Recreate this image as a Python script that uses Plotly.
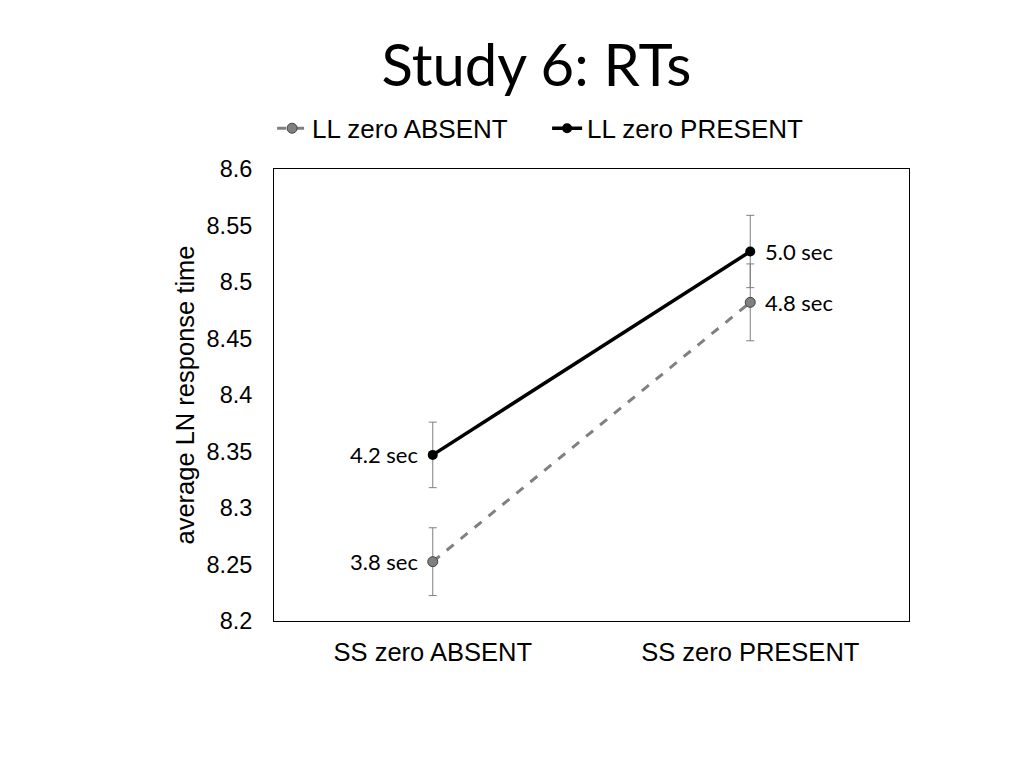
import plotly.graph_objects as go

# ---------------------------------------------
# DATA
# ---------------------------------------------
categories = ["SS zero ABSENT", "SS zero PRESENT"]

ll_absent = [8.2525, 8.482]
ll_absent_err = [0.030, 0.034]
ll_absent_labels = ["3.8 sec", "4.8 sec"]

ll_present = [8.347, 8.527]
ll_present_err = [0.029, 0.032]
ll_present_labels = ["4.2 sec", "5.0 sec"]

y_ticks = [8.2, 8.25, 8.3, 8.35, 8.4, 8.45, 8.5, 8.55, 8.6]

# ---------------------------------------------
# FIGURE
# ---------------------------------------------
fig = go.Figure()

fig.add_trace(go.Scatter(
    x=categories, y=ll_absent,
    name="LL zero ABSENT",
    mode="lines+markers",
    line=dict(color="#808080", width=3, dash="dash"),
    marker=dict(size=10, color="#808080", line=dict(color="#404040", width=1)),
    error_y=dict(type="data", array=ll_absent_err, color="#7f7f7f", thickness=1, width=4),
))

fig.add_trace(go.Scatter(
    x=categories, y=ll_present,
    name="LL zero PRESENT",
    mode="lines+markers",
    line=dict(color="black", width=3.5),
    marker=dict(size=10, color="black"),
    error_y=dict(type="data", array=ll_present_err, color="#7f7f7f", thickness=1, width=4),
))

# data labels: left of first point, right of second
for vals, labels in [(ll_absent, ll_absent_labels), (ll_present, ll_present_labels)]:
    for i, (v, lab) in enumerate(zip(vals, labels)):
        left = i == 0
        fig.add_annotation(
            x=categories[i], y=v, text=lab,
            showarrow=False,
            xanchor="right" if left else "left",
            xshift=-13 if left else 13,
            font=dict(family="Lato", size=22, color="black"),
        )

# page body adds 8px offset, margins compensate
fig.update_layout(
    width=1024, height=768,
    paper_bgcolor="white",
    plot_bgcolor="white",
    margin=dict(l=266, r=123, t=161, b=155),
    title=dict(
        text="Study 6: RTs",
        x=0.516, xanchor="center",
        y=0.925, yanchor="middle",
        font=dict(family="Lato", size=58, color="black"),
    ),
    legend=dict(
        orientation="h",
        x=-0.003, xanchor="left",
        y=1.09, yanchor="middle",
        font=dict(family="Liberation Sans", size=26, color="black"),
        entrywidth=230,
        bgcolor="rgba(0,0,0,0)",
    ),
    xaxis=dict(
        type="category",
        range=[-0.5, 1.5],
        showline=True, mirror=True, linecolor="black", linewidth=1,
        showgrid=False, ticks="",
        ticklabelstandoff=8,
        tickfont=dict(family="Liberation Sans", size=25.5, color="black"),
    ),
    yaxis=dict(
        range=[8.2, 8.6],
        tickvals=y_ticks,
        ticktext=[f"{t:g}" for t in y_ticks],
        showline=True, mirror=True, linecolor="black", linewidth=1,
        showgrid=False, zeroline=False, ticks="",
        ticklabelstandoff=16,
        tickfont=dict(family="Liberation Sans", size=23.5, color="black"),
        title=dict(
            text="average LN response time",
            font=dict(family="Liberation Sans", size=25.5, color="black"),
            standoff=4,
        ),
    ),
)

fig.write_html("out.html")
